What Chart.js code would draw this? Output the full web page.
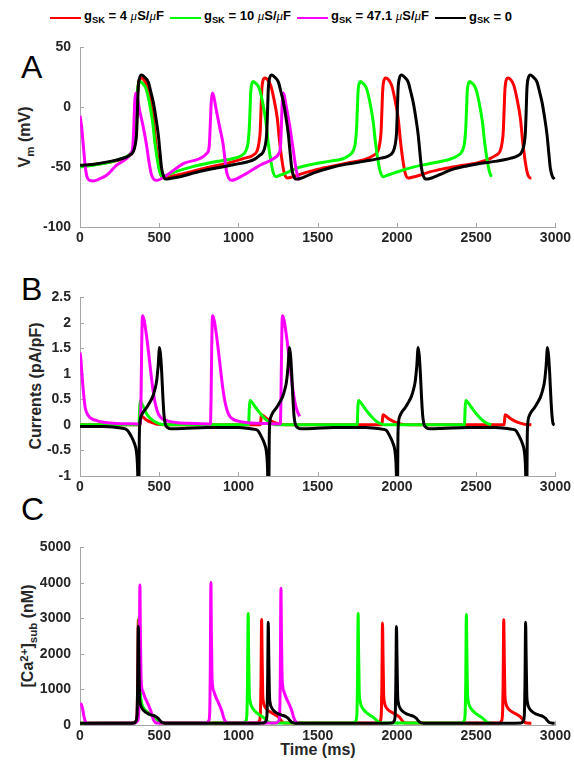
<!DOCTYPE html>
<html>
<head>
<meta charset="utf-8">
<script src="https://cdn.jsdelivr.net/npm/chart.js@4.4.0/dist/chart.umd.min.js"></script>
<style>
  body { margin: 0; background: #fff; width: 574px; height: 767px; position: relative; overflow: hidden;
         font-family: "Liberation Sans", Arial, sans-serif; color: #262626; }
  canvas { position: absolute; left: 0; }
  .txt { position: absolute; white-space: nowrap; line-height: 1; font-weight: bold; }
  .letter { position: absolute; font-size: 32px; line-height: 1; color: #000; left: 21px; }
  .ytitle { font-size: 16px; transform: translate(-50%, -50%) rotate(-90deg); }
  .sub { font-size: 0.72em; position: relative; top: 0.32em; }
  .sup { font-size: 0.72em; position: relative; top: -0.45em; }
  .mu { font-family: "Liberation Serif", serif; font-style: italic; font-weight: normal; }
  #legend { position: absolute; left: 50px; top: 8px; display: flex; align-items: center; font-size: 13px; font-weight: bold; color: #000; }
  #legend .item { display: flex; align-items: center; margin-right: 6px; }
  #legend .ln { width: 31px; height: 0; border-top: 2px solid; margin-right: 3px; position: relative; top: 2px; }
</style>
</head>
<body>
<div id="legend"></div>

<div class="letter" style="top:51px">A</div>
<div class="letter" style="top:273px">B</div>
<div class="letter" style="top:493px">C</div>

<div class="txt ytitle" style="left:25px; top:137px">V<span class="sub">m</span> (mV)</div>
<div class="txt ytitle" style="left:36px; top:386px">Currents (pA/pF)</div>
<div class="txt ytitle" style="left:28px; top:636px">[Ca<span class="sup">2+</span>]<span class="sub">sub</span> (nM)</div>
<div class="txt" style="left:318px; top:742px; font-size:16px; transform:translateX(-50%)">Time (ms)</div>

<canvas id="chartA" width="574" height="225" style="top:30px"></canvas>
<canvas id="chartB" width="574" height="225" style="top:280px"></canvas>
<canvas id="chartC" width="574" height="225" style="top:530px"></canvas>

<script>
// legend / series order: gSK = 4, 10, 47.1, 0
const legendLabels = ['4 <span class="mu">μ</span>S/<span class="mu">μ</span>F', '10 <span class="mu">μ</span>S/<span class="mu">μ</span>F',
                      '47.1 <span class="mu">μ</span>S/<span class="mu">μ</span>F', '0'];
const colors = ['#ff0000', '#00ff00', '#ff00ff', '#000000'];

const xTicks = [0, 500, 1000, 1500, 2000, 2500, 3000];
const yTicksA = [-100, -50, 0, 50];
const yTicksB = [-1, -0.5, 0, 0.5, 1, 1.5, 2, 2.5];
const yTicksC = [0, 1000, 2000, 3000, 4000, 5000];

// ---- A: membrane potential (ms, mV)
const vmRed = [[0,-49],[100,-47.8],[200,-45.5],[260,-43.5],[310,-40],[335,-36.5],[347,-30],[355,-20],[360,-3],[365,14],[373,22.5],[385,24.5],
  [399,23.5],[421,18.5],[440,8],[463,-9.4],[477,-28],[494,-45.6],[507,-55],[526,-59],[550,-58.5],[650,-55.5],[800,-50.5],[950,-46],[1040,-42.5],
  [1092,-40],[1117,-36.5],[1129,-30],[1137,-20],[1142,-3],[1147,14],[1155,22.5],[1167,24.5],
  [1181,23.5],[1203,18.5],[1222,8],[1245,-9.4],[1259,-28],[1276,-45.6],[1289,-55],[1308,-59],[1332,-58.5],[1387,-56],[1480,-52.5],[1577,-49.6],[1690,-46.5],[1787,-44],
  [1855,-40],[1880,-36.5],[1892,-30],[1900,-20],[1905,-3],[1910,14],[1918,22.5],[1930,24.5],
  [1944,23.5],[1966,18.5],[1985,8],[2008,-9.4],[2022,-28],[2039,-45.6],[2052,-55],[2071,-59],[2095,-58.5],[2150,-56.5],[2207,-54],[2310,-51],[2417,-48.4],[2520,-46],
  [2626,-40],[2651,-36.5],[2663,-30],[2671,-20],[2676,-3],[2681,14],[2689,22.5],[2701,24.5],
  [2715,23.5],[2737,18.5],[2756,8],[2779,-9.4],[2793,-28],[2810,-45.6],[2823,-55],[2842,-59],[2848,-59]];
const vmGreen = [[0,-50],[100,-48],[200,-45.5],[260,-43],[308,-40],[333,-36],[345,-30],[353,-18],[358,-2],[363,14],[370,20],[378,21.5],
  [390,20.5],[416,15.7],[436,5],[458,-12],[473,-30],[490,-45.6],[503,-54],[521,-58],[543,-57],[600,-54],[700,-50],[800,-47],[900,-44.5],[967,-42.8],
  [1023,-40],[1048,-36],[1060,-30],[1068,-18],[1073,-2],[1078,14],[1085,20],[1093,21.5],
  [1105,20.5],[1131,15.7],[1151,5],[1173,-12],[1188,-30],[1205,-45.6],[1218,-54],[1236,-58],[1258,-57],[1300,-55],[1366,-51],[1471,-47.5],[1580,-45],[1660,-43],
  [1700,-40],[1725,-36],[1737,-30],[1745,-18],[1750,-2],[1755,14],[1762,20],[1770,21.5],
  [1782,20.5],[1808,15.7],[1828,5],[1850,-12],[1865,-30],[1882,-45.6],[1895,-54],[1913,-58],[1935,-57],[1980,-55],[2102,-50],[2210,-47],[2312,-44.2],
  [2389,-40],[2414,-36],[2426,-30],[2434,-18],[2439,-2],[2444,14],[2451,20],[2459,21.5],
  [2471,20.5],[2497,15.7],[2517,5],[2539,-12],[2554,-30],[2571,-45.6],[2584,-54],[2596,-58]];
const vmMagenta = [[0,-7],[10,-16],[21,-32],[32,-48],[42,-57],[60,-61],[84,-61.5],[120,-60],[168,-56.8],[231,-48.4],[294,-42.8],[320,-38.5],
  [333,-33],[340,-15],[345,4],[352,12],[378,-3.8],[400,-17],[420,-31.7],[437,-47],[452,-56.8],[483,-61],[547,-56.8],[652,-47],[757,-42.8],[800,-38.5],
  [815,-33],[822,-15],[828,4],[835,12],[862,-3.8],[882,-17],[904,-31.7],[916,-45],[925,-54],[956,-61],[1030,-56.8],[1135,-48.4],[1220,-43],[1255,-38.5],
  [1265,-33],[1271,-15],[1276,4],[1282,12],[1305,-2],[1325,-17],[1345,-35],[1365,-53],[1385,-61]];
const vmBlack = [[0,-48.5],[100,-47.3],[200,-45],[260,-43],[309,-40.5],[336,-37],[349,-31],[357,-22],[362,-5],[367,15],[375,24],[389,27],
  [405,25.5],[431,21],[445,14],[462,4.5],[478,-8],[494,-23],[505,-38],[515,-51],[527,-57.5],[540,-60],[569,-59.5],[631,-58],[700,-55.5],[760,-53.5],[870,-50.5],[967,-48],[1060,-45.5],[1100,-43.5],
  [1130,-40.5],[1157,-37],[1170,-31],[1178,-22],[1183,-5],[1188,15],[1196,24],[1210,27],
  [1226,25.5],[1252,21],[1266,14],[1283,4.5],[1299,-8],[1315,-23],[1326,-38],[1336,-51],[1348,-57.5],[1361,-60],[1390,-59.5],[1471,-55],[1580,-50.5],[1682,-47.5],[1800,-45],[1900,-42.5],
  [1949,-40.5],[1976,-37],[1989,-31],[1997,-22],[2002,-5],[2007,15],[2015,24],[2029,27],
  [2045,25.5],[2071,21],[2085,14],[2102,4.5],[2118,-8],[2134,-23],[2145,-38],[2155,-51],[2167,-57.5],[2180,-60],[2209,-59.5],[2300,-54.5],[2360,-51.5],[2440,-49],[2522,-47],[2630,-45],[2720,-42.5],
  [2762,-40.5],[2789,-37],[2802,-31],[2810,-22],[2815,-5],[2820,15],[2828,24],[2842,27],
  [2858,25.5],[2884,21],[2898,14],[2915,4.5],[2931,-8],[2947,-23],[2958,-38],[2968,-51],[2980,-57.5],[2995,-60]];

// ---- B: currents (ms, pA/pF)
const iRed = [[0,0.003],[378,0.003],[382,0.1],[386,0.17],[395,0.16],[410,0.12],[430,0.08],[455,0.045],[480,0.02],[510,0.008],[550,0.003],
  [1138,0.003],[1142,0.12],[1145,0.2],[1152,0.19],[1165,0.16],[1185,0.11],[1210,0.07],[1240,0.035],[1270,0.012],[1300,0.003],
  [1905,0.003],[1909,0.12],[1912,0.2],[1919,0.19],[1932,0.16],[1952,0.11],[1977,0.07],[2007,0.035],[2037,0.012],[2067,0.003],
  [2676,0.003],[2680,0.12],[2683,0.2],[2690,0.19],[2703,0.16],[2723,0.11],[2748,0.07],[2778,0.035],[2808,0.012],[2848,0.003]];
const iGreen = [[0,0.005],[372,0.005],[376,0.3],[380,0.48],[390,0.42],[405,0.32],[420,0.22],[440,0.14],[462,0.085],[485,0.045],[504,0.02],[540,0.006],[700,0.005],
  [1064,0.005],[1068,0.3],[1072,0.48],[1081,0.46],[1096,0.4],[1116,0.31],[1136,0.23],[1161,0.14],[1186,0.07],[1211,0.025],[1236,0.005],
  [1749,0.005],[1753,0.3],[1757,0.48],[1766,0.46],[1781,0.4],[1801,0.31],[1821,0.23],[1846,0.14],[1871,0.07],[1896,0.025],[1921,0.005],
  [2426,0.005],[2430,0.3],[2434,0.48],[2443,0.46],[2458,0.4],[2478,0.31],[2498,0.23],[2523,0.14],[2548,0.07],[2573,0.025],[2596,0.006]];
const iMagenta = [[0,1.42],[5,1.3],[12,1.0],[21,0.67],[32,0.35],[53,0.18],[105,0.085],[160,0.05],[230,0.03],[340,0.022],
  [381,0.02],[385,0.5],[389,1.5],[392,2.0],[395,2.14],[405,2.05],[415,1.85],[425,1.62],[437,1.3],[450,0.95],[460,0.7],[473,0.45],[487,0.28],[503,0.17],[525,0.11],[555,0.075],[615,0.045],[715,0.03],
  [823,0.02],[827,0.5],[831,1.5],[834,2.0],[837,2.14],[847,2.05],[857,1.85],[867,1.62],[879,1.3],[892,0.95],[902,0.7],[915,0.45],[929,0.28],[945,0.17],[967,0.11],[997,0.075],[1057,0.045],[1157,0.03],
  [1264,0.02],[1268,0.5],[1272,1.5],[1275,2.0],[1278,2.14],[1288,2.05],[1298,1.85],[1308,1.62],[1320,1.3],[1333,0.95],[1343,0.7],[1356,0.45],[1370,0.28],[1386,0.17]];
const iBlack = [[0,-0.03],[150,-0.03],[258,-0.06],[298,-0.1],[323,-0.22],[343,-0.36],[355,-0.5],[362,-0.75],[366,-1.2],[369,-1.8],[372,-1.2],[374,-0.3],
  [378,0.05],[386,0.17],[398,0.25],[418,0.33],[438,0.43],[458,0.55],[473,0.7],[483,0.85],[493,1.15],[502,1.52],[509,1.35],[516,1.0],[523,0.55],[530,0.2],[538,0.02],[553,-0.05],[578,-0.075],[650,-0.07],[800,-0.05],[1000,-0.05],
  [1078,-0.075],[1118,-0.1],[1143,-0.22],[1163,-0.36],[1175,-0.5],[1182,-0.75],[1186,-1.2],[1189,-1.8],[1192,-1.2],[1194,-0.3],
  [1198,0.05],[1206,0.17],[1218,0.25],[1238,0.33],[1258,0.43],[1278,0.55],[1293,0.7],[1303,0.85],[1313,1.15],[1322,1.52],[1329,1.35],[1336,1.0],[1343,0.55],[1350,0.2],[1358,0.02],[1373,-0.05],[1398,-0.075],[1470,-0.07],[1600,-0.05],[1800,-0.05],
  [1890,-0.075],[1930,-0.1],[1955,-0.22],[1975,-0.36],[1987,-0.5],[1994,-0.75],[1998,-1.2],[2001,-1.8],[2004,-1.2],[2006,-0.3],
  [2010,0.05],[2018,0.17],[2030,0.25],[2050,0.33],[2070,0.43],[2090,0.55],[2105,0.7],[2115,0.85],[2125,1.15],[2134,1.52],[2141,1.35],[2148,1.0],[2155,0.55],[2162,0.2],[2170,0.02],[2185,-0.05],[2210,-0.075],[2280,-0.07],[2450,-0.05],[2620,-0.05],
  [2706,-0.075],[2746,-0.1],[2771,-0.22],[2791,-0.36],[2803,-0.5],[2810,-0.75],[2814,-1.2],[2817,-1.8],[2820,-1.2],[2822,-0.3],
  [2826,0.05],[2834,0.17],[2846,0.25],[2866,0.33],[2886,0.43],[2906,0.55],[2921,0.7],[2931,0.85],[2941,1.15],[2950,1.52],[2957,1.35],[2964,1.0],[2971,0.55],[2978,0.2],[2986,0.02],[2995,0.0]];

// ---- C: subspace calcium (ms, nM)
const caRed = [[0,50],[338,55],[353,110],[360,300],[364,1200],[368,2960],[371,2000],[375,900],[380,640],[388,520],[403,430],[428,350],[453,290],[473,230],[486,160],[498,90],[513,55],
  [1116,55],[1131,110],[1138,300],[1142,1200],[1146,2970],[1149,2000],[1153,900],[1158,640],[1166,520],[1181,430],[1206,350],[1231,290],[1251,230],[1264,160],[1276,90],[1291,55],
  [1879,55],[1894,110],[1901,300],[1905,1200],[1909,2870],[1912,2000],[1916,900],[1921,640],[1929,520],[1944,430],[1969,350],[1994,290],[2014,230],[2027,160],[2039,90],[2054,55],
  [2644,55],[2659,110],[2666,300],[2670,1200],[2674,2960],[2677,2000],[2681,900],[2686,640],[2694,520],[2709,430],[2734,350],[2759,290],[2779,230],[2792,160],[2804,90],[2819,55],[2848,50]];
const caGreen = [[0,50],[344,55],[359,110],[366,300],[370,1200],[374,3070],[377,2100],[381,950],[386,680],[394,540],[409,430],[429,340],[454,260],[474,200],[489,140],[502,85],[519,55],
  [1031,55],[1046,110],[1053,300],[1057,1200],[1061,3140],[1064,2100],[1068,950],[1073,680],[1081,540],[1096,430],[1116,340],[1141,260],[1161,200],[1176,140],[1189,85],[1206,55],
  [1725,55],[1740,110],[1747,300],[1751,1200],[1755,3140],[1758,2100],[1762,950],[1767,680],[1775,540],[1790,430],[1810,340],[1835,260],[1855,200],[1870,140],[1883,85],[1900,55],
  [2408,55],[2423,110],[2430,300],[2434,1200],[2438,3110],[2441,2100],[2445,950],[2450,680],[2458,540],[2473,430],[2493,340],[2518,260],[2538,200],[2553,140],[2566,85],[2583,55],[2596,50]];
const caMagenta = [[0,600],[8,580],[15,480],[25,240],[33,110],[42,55],[100,50],
  [348,55],[363,110],[370,300],[374,1500],[378,3940],[381,2600],[385,1400],[390,1050],[398,930],[408,800],[423,650],[436,520],[448,380],[458,220],[468,110],[480,55],
  [796,55],[811,110],[818,300],[822,1500],[826,4010],[829,2600],[833,1400],[838,1050],[846,930],[856,800],[871,650],[884,520],[896,380],[906,220],[916,110],[928,55],
  [1238,55],[1253,110],[1260,300],[1264,1500],[1268,3850],[1271,2600],[1275,1400],[1280,1050],[1288,930],[1298,800],[1313,650],[1326,520],[1338,380],[1348,220],[1358,110],[1370,55],[1385,50]];
const caBlack = [[0,50],[300,50],[338,55],[353,110],[360,300],[364,1200],[368,2780],[371,2000],[375,900],[380,620],[388,500],[403,400],[428,320],[453,280],[478,240],[493,190],[506,120],[518,70],[538,52],
  [1100,50],[1158,55],[1173,110],[1180,300],[1184,1200],[1188,2890],[1191,2000],[1195,900],[1200,620],[1208,500],[1223,400],[1248,320],[1273,280],[1298,240],[1313,190],[1326,120],[1338,70],[1358,52],
  [1900,50],[1967,55],[1982,110],[1989,300],[1993,1200],[1997,2770],[2000,2000],[2004,900],[2009,620],[2017,500],[2032,400],[2057,320],[2082,280],[2107,240],[2122,190],[2135,120],[2147,70],[2167,52],
  [2700,50],[2782,55],[2797,110],[2804,300],[2808,1200],[2812,2890],[2815,2000],[2819,900],[2824,620],[2832,500],[2847,400],[2872,320],[2897,280],[2922,240],[2937,190],[2950,120],[2962,70],[2982,52],[2995,50]];

// legend
const legend = document.getElementById('legend');
legendLabels.forEach((lab, i) => {
  const item = document.createElement('div');
  item.className = 'item';
  item.innerHTML = `<span class="ln" style="border-color:${colors[i]}"></span><span>g<span class="sub">SK</span> = ${lab}</span>`;
  legend.appendChild(item);
});

const axisGrey = '#a6a6a6';
const tickFont = { family: '"Liberation Sans", Arial, sans-serif', size: 14, weight: 'bold' };

// short tick marks pointing into the plot, like the original axes
const innerTicks = {
  id: 'innerTicks',
  beforeDatasetsDraw(chart) {
    const { ctx, chartArea: a, scales: { x, y } } = chart;
    ctx.save();
    ctx.strokeStyle = axisGrey;
    ctx.lineWidth = 1;
    x.ticks.forEach(t => {
      const px = Math.round(x.getPixelForValue(t.value)) + 0.5;
      ctx.beginPath(); ctx.moveTo(px, a.bottom); ctx.lineTo(px, a.bottom - 4); ctx.stroke();
    });
    y.ticks.forEach(t => {
      const py = Math.round(y.getPixelForValue(t.value)) + 0.5;
      ctx.beginPath(); ctx.moveTo(a.left, py); ctx.lineTo(a.left + 4, py); ctx.stroke();
    });
    ctx.restore();
  }
};

function makePanel(id, series, yTicks, padTop, xHeight) {
  const datasets = series.map((pts, i) => ({
    data: pts.map(p => ({ x: p[0], y: p[1] })),
    borderColor: colors[i],
    borderWidth: 3,
    pointRadius: 0,
    fill: false,
    cubicInterpolationMode: 'monotone',
    order: 4 - i,
    clip: 0
  }));
  return new Chart(document.getElementById(id), {
    type: 'line',
    data: { datasets },
    options: {
      responsive: false,
      animation: false,
      devicePixelRatio: 1,
      events: [],
      layout: { padding: { top: padTop, right: 18, left: 0, bottom: 0 } },
      plugins: { legend: { display: false }, tooltip: { enabled: false } },
      scales: {
        x: {
          type: 'linear', min: xTicks[0], max: xTicks[xTicks.length - 1],
          afterBuildTicks: s => { s.ticks = xTicks.map(v => ({ value: v })); },
          afterFit: s => { s.height = xHeight; },
          grid: { display: false, drawTicks: false },
          border: { display: true, color: axisGrey, width: 1 },
          ticks: { font: tickFont, color: '#262626', padding: 3, maxRotation: 0, autoSkip: false, callback: v => String(v) }
        },
        y: {
          type: 'linear', min: yTicks[0], max: yTicks[yTicks.length - 1],
          afterBuildTicks: s => { s.ticks = yTicks.map(v => ({ value: v })); },
          afterFit: s => { s.width = 80; },
          grid: { display: false, drawTicks: false },
          border: { display: true, color: axisGrey, width: 1 },
          ticks: { font: tickFont, color: '#262626', padding: 9, autoSkip: false, callback: v => String(v) }
        }
      }
    },
    plugins: [innerTicks]
  });
}

makePanel('chartA', [vmRed, vmGreen, vmMagenta, vmBlack], yTicksA, 17, 28);
makePanel('chartB', [iRed, iGreen, iMagenta, iBlack], yTicksB, 17, 29);
makePanel('chartC', [caRed, caGreen, caMagenta, caBlack], yTicksC, 16, 30);
</script>
</body>
</html>
